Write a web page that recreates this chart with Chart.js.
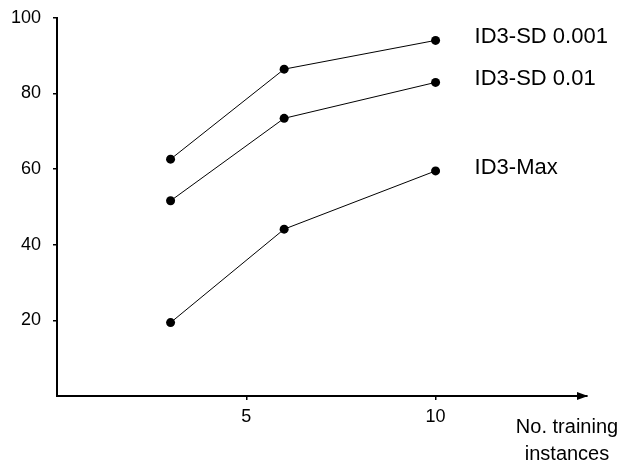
<!DOCTYPE html>
<html>
<head>
<meta charset="utf-8">
<script src="https://cdn.jsdelivr.net/npm/chart.js@4.4.1/dist/chart.umd.min.js"></script>
<style>
  html, body { margin: 0; padding: 0; background: #fff; }
  #wrap { width: 623px; height: 462px; }
</style>
</head>
<body>
<div id="wrap"><canvas id="chart" width="623" height="462"></canvas></div>
<script>
// data
const trainingSizes = [3, 6, 10];
const sd001 = [62.6, 86.4, 94.0];
const sd01 = [51.6, 73.4, 82.9];
const id3Max = [19.4, 44.1, 59.5];
const seriesNames = ["ID3-SD 0.001", "ID3-SD 0.01", "ID3-Max"];
const xTicks = [5, 10];
const yTicks = [20, 40, 60, 80, 100];
const xTitle = ["No. training", "instances"];

const FONT = "'Liberation Sans', Arial, sans-serif";

function toPoints(values) {
  return trainingSizes.map((x, i) => ({ x: x, y: values[i] }));
}

function makeSet(name, values) {
  return {
    label: name,
    data: toPoints(values),
    borderColor: "#000",
    backgroundColor: "#000",
    borderWidth: 1,
    pointRadius: 4.5,
    pointBorderWidth: 0,
    fill: false,
    tension: 0
  };
}

// series names at the right end of each line + axis arrow + x title
const annotations = {
  id: "annotations",
  afterDraw(chart) {
    const ctx = chart.ctx;
    const xs = chart.scales.x, ys = chart.scales.y;
    const area = chart.chartArea;
    ctx.save();
    ctx.fillStyle = "#000";

    // arrow head on x axis
    const tipX = area.right, tipY = area.bottom;
    ctx.beginPath();
    ctx.moveTo(tipX + 1, tipY);
    ctx.lineTo(tipX - 10, tipY - 4);
    ctx.lineTo(tipX - 10, tipY + 4);
    ctx.closePath();
    ctx.fill();

    // line labels
    ctx.font = "22px " + FONT;
    ctx.textAlign = "left";
    ctx.textBaseline = "middle";
    chart.data.datasets.forEach(ds => {
      const last = ds.data[ds.data.length - 1];
      ctx.fillText(ds.label, xs.getPixelForValue(last.x) + 39, ys.getPixelForValue(last.y) - 3);
    });

    // x axis title, bottom right
    ctx.font = "20px " + FONT;
    ctx.textAlign = "center";
    ctx.fillText(xTitle[0], 567, 427);
    ctx.fillText(xTitle[1], 567, 454);
    ctx.restore();
  }
};

new Chart(document.getElementById("chart"), {
  type: "line",
  data: {
    datasets: [
      makeSet(seriesNames[0], sd001),
      makeSet(seriesNames[1], sd01),
      makeSet(seriesNames[2], id3Max)
    ]
  },
  options: {
    responsive: false,
    animation: false,
    layout: { padding: { left: 0, right: 36, top: 17.7, bottom: 0 } },
    plugins: {
      legend: { display: false },
      tooltip: { enabled: false }
    },
    scales: {
      x: {
        type: "linear",
        min: 0,
        max: 14,
        afterBuildTicks: s => { s.ticks = xTicks.map(v => ({ value: v })); },
        afterFit: s => { s.height = 66; s.paddingRight = 0; s.paddingLeft = 0; },
        border: { display: true, color: "#000", width: 2 },
        grid: { drawOnChartArea: false, drawTicks: true, tickLength: 4, color: "#000", lineWidth: 1.5 },
        ticks: { color: "#000", padding: 6, font: { family: FONT, size: 18 } }
      },
      y: {
        type: "linear",
        min: 0,
        max: 100,
        afterBuildTicks: s => { s.ticks = yTicks.map(v => ({ value: v })); },
        afterFit: s => { s.width = 57; s.paddingTop = 0; s.paddingBottom = 0; },
        border: { display: true, color: "#000", width: 2 },
        grid: { drawOnChartArea: false, drawTicks: true, tickLength: 4, color: "#000", lineWidth: 1.5 },
        ticks: { color: "#000", padding: 12, font: { family: FONT, size: 18 } }
      }
    }
  },
  plugins: [annotations]
});
</script>
</body>
</html>
